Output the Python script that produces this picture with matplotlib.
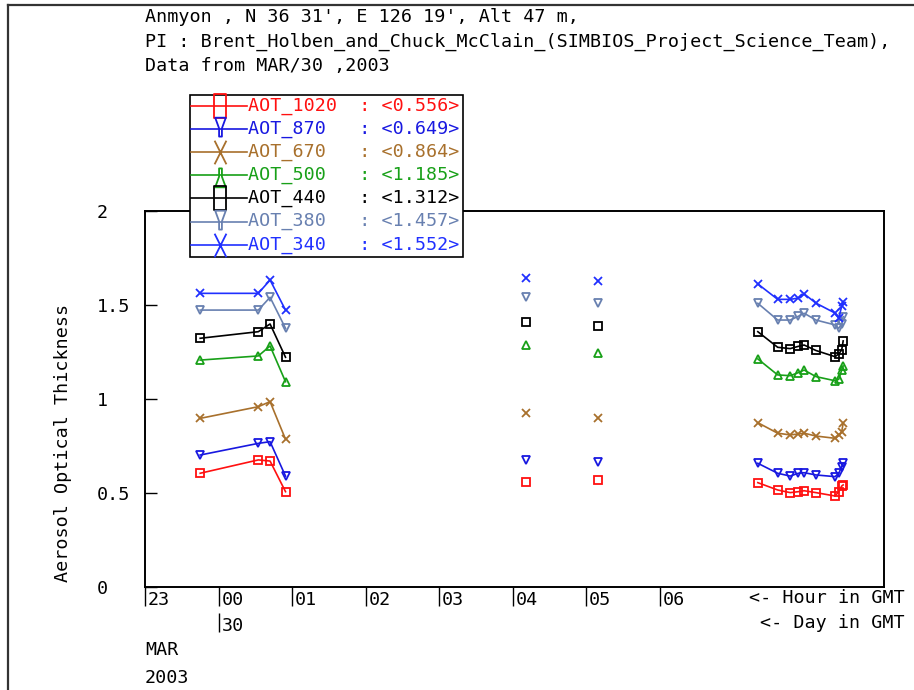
import numpy as np
import matplotlib
matplotlib.use("Agg")
import matplotlib.pyplot as plt
from matplotlib.path import Path
from matplotlib.lines import Line2D
from matplotlib.patches import Rectangle
from matplotlib.transforms import ScaledTranslation

plt.rcParams["font.family"] = ["DejaVu Sans Mono"]
FS = 13.2

# hours in GMT relative to 00 on MAR/30 (23 on the previous day = -1)
HOURS = [-0.25, 0.54, 0.70, 0.91, 4.18, 5.16,
         7.33, 7.60, 7.77, 7.88, 7.96, 8.12, 8.38, 8.43, 8.47, 8.49]

AOT_1020 = [0.605, 0.676, 0.670, 0.507, 0.560, 0.569,
            0.555, 0.516, 0.502, 0.507, 0.512, 0.502, 0.484, 0.507, 0.537, 0.543]
AOT_870 = [0.702, 0.764, 0.773, 0.590, 0.676, 0.667,
           0.658, 0.605, 0.590, 0.605, 0.608, 0.596, 0.587, 0.605, 0.640, 0.658]
AOT_670 = [0.897, 0.959, 0.986, 0.786, 0.924, 0.897,
           0.874, 0.818, 0.809, 0.814, 0.818, 0.803, 0.791, 0.809, 0.826, 0.871]
AOT_500 = [1.207, 1.229, 1.282, 1.092, 1.287, 1.243,
           1.213, 1.128, 1.124, 1.140, 1.154, 1.119, 1.097, 1.105, 1.154, 1.176]
AOT_440 = [1.323, 1.358, 1.399, 1.222, 1.408, 1.388,
           1.358, 1.275, 1.268, 1.280, 1.287, 1.258, 1.225, 1.240, 1.261, 1.309]
AOT_380 = [1.473, 1.473, 1.541, 1.376, 1.544, 1.512,
           1.509, 1.420, 1.420, 1.440, 1.456, 1.420, 1.394, 1.376, 1.400, 1.438]
AOT_340 = [1.562, 1.562, 1.633, 1.473, 1.642, 1.629,
           1.612, 1.530, 1.530, 1.537, 1.559, 1.510, 1.457, 1.430, 1.494, 1.517]

SERIES_NAMES = ["AOT_1020", "AOT_870", "AOT_670", "AOT_500", "AOT_440", "AOT_380", "AOT_340"]
SERIES_VALUES = [AOT_1020, AOT_870, AOT_670, AOT_500, AOT_440, AOT_380, AOT_340]
SERIES_MEANS = ["0.556", "0.649", "0.864", "1.185", "1.312", "1.457", "1.552"]
COLORS = ["#ff1010", "#1818e0", "#a8702c", "#18a018", "#000000", "#6880b0", "#2030ff"]
MARKERS = ["s", "v", "x", "^", "s", "v", "x"]

HOUR_TICKS = [-1, 0, 1, 2, 3, 4, 5, 6]
HOUR_LABELS = ["23", "00", "01", "02", "03", "04", "05", "06"]

TITLE_LINES = ["Anmyon , N 36 31', E 126 19', Alt 47 m,",
               "PI : Brent_Holben_and_Chuck_McClain_(SIMBIOS_Project_Science_Team),",
               "Data from MAR/30 ,2003"]

W, H = 914, 690


def fx(x):
    return x / W


def fy(y):
    return 1 - y / H


def with_gaps(x, y, max_gap=0.9):
    """Insert NaN where consecutive measurements are far apart so lines break."""
    xs, ys = [x[0]], [y[0]]
    for i in range(1, len(x)):
        if x[i] - x[i - 1] > max_gap:
            xs.append(np.nan)
            ys.append(np.nan)
        xs.append(x[i])
        ys.append(y[i])
    return np.array(xs), np.array(ys)


# tall legend markers
def tall_square():
    return Path([(-0.5, -1), (0.5, -1), (0.5, 1), (-0.5, 1), (-0.5, -1)],
                [Path.MOVETO, Path.LINETO, Path.LINETO, Path.LINETO, Path.CLOSEPOLY])


def tall_down():
    return Path([(-0.45, 1), (0.45, 1), (0.12, 0.1), (0.12, -0.6), (-0.12, -0.6), (-0.12, 0.1), (-0.45, 1)],
                [Path.MOVETO] + [Path.LINETO] * 5 + [Path.CLOSEPOLY])


def tall_up():
    return Path([(-0.45, -1), (0.45, -1), (0.12, -0.1), (0.12, 0.6), (-0.12, 0.6), (-0.12, -0.1), (-0.45, -1)],
                [Path.MOVETO] + [Path.LINETO] * 5 + [Path.CLOSEPOLY])


def tall_x():
    return Path([(-0.5, -1), (0.5, 1), (-0.5, 1), (0.5, -1)],
                [Path.MOVETO, Path.LINETO, Path.MOVETO, Path.LINETO])


LEGEND_MARKERS = {"s": tall_square(), "v": tall_down(), "^": tall_up(), "x": tall_x()}


def main():
    fig = plt.figure(figsize=(W / 100, H / 100), dpi=100)
    ax = fig.add_axes([fx(145), fy(587), fx(884) - fx(145), fy(211) - fy(587)])

    for name, vals, col, mk in zip(SERIES_NAMES, SERIES_VALUES, COLORS, MARKERS):
        xs, ys = with_gaps(HOURS, vals)
        ax.plot(xs, ys, color=col, lw=1.2, marker=mk, markersize=5.5,
                markerfacecolor="none", markeredgecolor=col, markeredgewidth=1.3)

    ax.set_xlim(-1, 9.045)
    ax.set_ylim(0, 2)
    for s in ax.spines.values():
        s.set_linewidth(1.4)

    ax.set_xticks(HOUR_TICKS)
    ax.set_xticklabels(HOUR_LABELS, fontsize=FS, ha="left")
    ax.tick_params(axis="x", direction="out", length=14, width=1, pad=-11)
    for lab in ax.get_xticklabels():
        lab.set_transform(lab.get_transform() + ScaledTranslation(2 / 72, 0, fig.dpi_scale_trans))

    ax.set_yticks([0, 0.5, 1, 1.5, 2])
    ax.set_yticklabels(["0", "0.5", "1", "1.5", "2"], fontsize=FS, ha="left")
    ax.tick_params(axis="y", direction="in", length=8.5, width=1, pad=34.5)

    # day axis below hour axis
    day = ax.secondary_xaxis(-0.069)
    day.set_xticks([0])
    day.set_xticklabels(["30"], fontsize=FS, ha="left")
    day.tick_params(direction="out", length=14, width=1, pad=-11)
    day.spines["bottom"].set_visible(False)
    for lab in day.get_xticklabels():
        lab.set_transform(lab.get_transform() + ScaledTranslation(2 / 72, 0, fig.dpi_scale_trans))

    fig.text(fx(905), fy(598), "<- Hour in GMT", fontsize=FS, ha="right", va="center")
    fig.text(fx(905), fy(623), "<- Day in GMT", fontsize=FS, ha="right", va="center")
    fig.text(fx(145), fy(650), "MAR", fontsize=FS, ha="left", va="center")
    fig.text(fx(145), fy(678), "2003", fontsize=FS, ha="left", va="center")

    fig.text(fx(63), fy(443), "Aerosol Optical Thickness", fontsize=FS,
             rotation=90, ha="center", va="center")

    for i, line in enumerate(TITLE_LINES):
        fig.text(fx(145), fy(17 + 24.5 * i), line, fontsize=FS, ha="left", va="center")

    # legend box
    fig.add_artist(Rectangle((fx(190), fy(257)), fx(463) - fx(190), fy(95) - fy(257),
                             transform=fig.transFigure, facecolor="white",
                             edgecolor="black", lw=1.2, zorder=5))
    for i, (name, mean, col, mk) in enumerate(zip(SERIES_NAMES, SERIES_MEANS, COLORS, MARKERS)):
        yy = fy(106 + 23.1 * i)
        fig.add_artist(Line2D([fx(191), fx(247)], [yy, yy], transform=fig.transFigure,
                              color=col, lw=1.2, zorder=6))
        fig.add_artist(Line2D([fx(220)], [yy], transform=fig.transFigure, linestyle="none",
                              marker=LEGEND_MARKERS[mk], markersize=17,
                              markerfacecolor="none", markeredgecolor=col,
                              markeredgewidth=1.3, zorder=6))
        label = f"{name:<9} : <{mean}>"
        fig.text(fx(248), yy, label, color=col, fontsize=FS, ha="left", va="center", zorder=7)

    # outer frame
    fig.add_artist(Line2D([fx(8), fx(8)], [0, fy(5)], transform=fig.transFigure,
                          color="#333333", lw=1.6))
    fig.add_artist(Line2D([fx(8), 1], [fy(5), fy(5)], transform=fig.transFigure,
                          color="#333333", lw=1.6))

    fig.savefig("out.png", dpi=100)
    plt.close(fig)


if __name__ == "__main__":
    main()
